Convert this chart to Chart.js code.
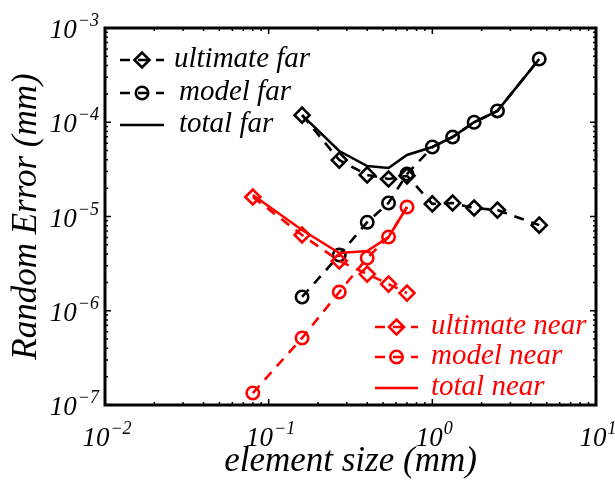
<!DOCTYPE html>
<html><head><meta charset="utf-8">
<script src="https://cdn.jsdelivr.net/npm/chart.js@4/dist/chart.umd.min.js"></script>
<style>html,body{margin:0;padding:0;background:#fff;} #wrap{width:615px;height:481px;}</style>
</head><body><div id="wrap"><canvas id="c" width="615" height="481"></canvas></div>
<script>
// ---- data ----
const sizeFar = [0.16, 0.27, 0.4, 0.54, 0.7, 1.0, 1.33, 1.8, 2.5, 4.5];
const sizeNear = [0.08, 0.16, 0.27, 0.4, 0.54, 0.7];
const ultimateFar = [1.19e-4, 3.97e-5, 2.76e-5, 2.5e-5, 2.7e-5, 1.36e-5, 1.39e-5, 1.23e-5, 1.17e-5, 8.1e-6];
const modelFar = [1.4e-6, 3.9e-6, 8.7e-6, 1.39e-5, 2.82e-5, 5.46e-5, 6.97e-5, 1.0e-4, 1.32e-4, 4.69e-4];
const totalFar = [1.19e-4, 4.95e-5, 3.43e-5, 3.27e-5, 4.49e-5, 5.46e-5, 6.97e-5, 1.0e-4, 1.32e-4, 4.69e-4];
const ultimateNear = [1.61e-5, 6.36e-6, 3.37e-6, 2.45e-6, 1.92e-6, 1.54e-6];
const modelNear = [1.34e-7, 5.14e-7, 1.58e-6, 3.63e-6, 6.05e-6, 1.26e-5];
const totalNear = [1.69e-5, 7.19e-6, 4.1e-6, 4.3e-6, 6.05e-6, 1.26e-5];
const xTickValues = [0.01, 0.1, 1, 10];
const xTickExponents = ['\u22122', '\u22121', '0', '1'];
const yTickValues = [1e-7, 1e-6, 1e-5, 1e-4, 1e-3];
const yTickExponents = ['\u22127', '\u22126', '\u22125', '\u22124', '\u22123'];
const xTitle = 'element size (mm)';
const yTitle = 'Random Error (mm)';
const seriesLabels = ['ultimate far', 'model far', 'total far', 'ultimate near', 'model near', 'total near'];

const FONT = '"Liberation Serif", "Times New Roman", serif';
const BLACK = '#000000', RED = '#ff0000';
const LW = 2.6, DASH = [10, 8];

function pts(xs, ys) { return xs.map((x, i) => ({ x: x, y: ys[i] })); }
function style(color, kind) {
  const s = { borderColor: color, borderWidth: LW, tension: 0, fill: false,
    pointBorderColor: color, pointBackgroundColor: 'rgba(0,0,0,0)', pointBorderWidth: LW,
    pointHoverRadius: 0 };
  if (kind === 'ult') { s.borderDash = DASH; s.pointStyle = 'rectRot'; s.pointRadius = 7.5; }
  else if (kind === 'model') { s.borderDash = DASH; s.pointStyle = 'circle'; s.pointRadius = 6.2; }
  else { s.borderDash = []; s.pointRadius = 0; }
  s.order = color === RED ? 0 : 1;
  return s;
}

const datasets = [
  Object.assign({ label: seriesLabels[0], data: pts(sizeFar, ultimateFar) }, style(BLACK, 'ult')),
  Object.assign({ label: seriesLabels[1], data: pts(sizeFar, modelFar) }, style(BLACK, 'model')),
  Object.assign({ label: seriesLabels[2], data: pts(sizeFar, totalFar) }, style(BLACK, 'total')),
  Object.assign({ label: seriesLabels[3], data: pts(sizeNear, ultimateNear) }, style(RED, 'ult')),
  Object.assign({ label: seriesLabels[4], data: pts(sizeNear, modelNear) }, style(RED, 'model')),
  Object.assign({ label: seriesLabels[5], data: pts(sizeNear, totalNear) }, style(RED, 'total'))
];

function drawMarker(ctx, ds, x, y) {
  if (!ds.pointRadius) return;
  ctx.save();
  ctx.setLineDash([]);
  ctx.strokeStyle = ds.pointBorderColor;
  ctx.lineWidth = ds.pointBorderWidth;
  const r = ds.pointRadius;
  ctx.beginPath();
  if (ds.pointStyle === 'rectRot') {
    ctx.moveTo(x - r, y); ctx.lineTo(x, y - r); ctx.lineTo(x + r, y); ctx.lineTo(x, y + r); ctx.closePath();
  } else {
    ctx.arc(x, y, r, 0, Math.PI * 2);
  }
  ctx.stroke();
  ctx.restore();
}

function drawSup(ctx, base, exp, x, y, align) {
  ctx.font = 'italic 27px ' + FONT;
  const wb = ctx.measureText(base).width;
  ctx.font = 'italic 18px ' + FONT;
  const we = ctx.measureText(exp).width;
  const w = wb + 1 + we;
  let x0 = align === 'right' ? x - w : x - w / 2;
  ctx.textAlign = 'left';
  ctx.textBaseline = 'alphabetic';
  ctx.font = 'italic 27px ' + FONT;
  ctx.fillText(base, x0, y);
  ctx.font = 'italic 18px ' + FONT;
  ctx.fillText(exp, x0 + wb + 1, y - 12);
}

const framePlugin = {
  id: 'frame',
  afterDatasetsDraw(chart) {
    const ctx = chart.ctx, a = chart.chartArea;
    const xs = chart.scales.x, ys = chart.scales.y;
    ctx.save();
    ctx.fillStyle = BLACK; ctx.strokeStyle = BLACK;
    ctx.lineWidth = 1.5;
    ctx.beginPath();
    for (let k = -2; k <= 0; k++) {
      for (let m = 1; m <= 9; m++) {
        const v = m * Math.pow(10, k);
        const px = xs.getPixelForValue(v);
        const L = m === 1 ? 6 : 3;
        ctx.moveTo(px, a.bottom); ctx.lineTo(px, a.bottom - L);
        ctx.moveTo(px, a.top); ctx.lineTo(px, a.top + L);
      }
    }
    for (let k = -7; k <= -4; k++) {
      for (let m = 1; m <= 9; m++) {
        const v = m * Math.pow(10, k);
        const py = ys.getPixelForValue(v);
        const L = m === 1 ? 6 : 3;
        ctx.moveTo(a.left, py); ctx.lineTo(a.left + L, py);
        ctx.moveTo(a.right, py); ctx.lineTo(a.right - L, py);
      }
    }
    ctx.stroke();
    ctx.lineWidth = 3;
    ctx.strokeRect(a.left, a.top, a.right - a.left, a.bottom - a.top);
    xTickValues.forEach((v, i) => drawSup(ctx, '10', xTickExponents[i], xs.getPixelForValue(v) + 2, a.bottom + 41, 'center'));
    yTickValues.forEach((v, i) => drawSup(ctx, '10', yTickExponents[i], a.left - 6, ys.getPixelForValue(v) + 10, 'right'));
    ctx.font = 'italic 35px ' + FONT;
    ctx.textAlign = 'center'; ctx.textBaseline = 'alphabetic';
    ctx.fillText(xTitle, (a.left + a.right) / 2, 471);
    ctx.save();
    ctx.translate(36, (a.top + a.bottom) / 2);
    ctx.rotate(-Math.PI / 2);
    ctx.fillText(yTitle, 0, 0);
    ctx.restore();
    const groups = [
      { idx: [0, 1, 2], x1: 120, x2: 164, tx: [174, 179, 179], ys: [60, 93, 125] },
      { idx: [3, 4, 5], x1: 375, x2: 418, tx: [431, 431, 431], ys: [327, 357, 388] }
    ];
    groups.forEach(g => {
      g.idx.forEach((di, j) => {
        const ds = chart.data.datasets[di];
        const y = g.ys[j];
        ctx.save();
        ctx.strokeStyle = ds.borderColor; ctx.lineWidth = ds.borderWidth;
        ctx.setLineDash(ds.borderDash || []);
        ctx.beginPath(); ctx.moveTo(g.x1, y); ctx.lineTo(g.x2, y); ctx.stroke();
        ctx.restore();
        drawMarker(ctx, ds, (g.x1 + g.x2) / 2, y);
        ctx.fillStyle = ds.borderColor;
        ctx.font = 'italic 29px ' + FONT;
        ctx.textAlign = 'left'; ctx.textBaseline = 'alphabetic';
        ctx.fillText(ds.label, g.tx[j], y + 7);
      });
    });
    ctx.restore();
  }
};

new Chart(document.getElementById('c'), {
  type: 'line',
  data: { datasets: datasets },
  options: {
    responsive: false,
    animation: false,
    devicePixelRatio: 1,
    layout: { padding: { left: 105, right: 19, top: 28, bottom: 76 } },
    scales: {
      x: { type: 'logarithmic', min: 0.01, max: 10, display: false },
      y: { type: 'logarithmic', min: 1e-7, max: 1e-3, display: false }
    },
    plugins: { legend: { display: false }, tooltip: { enabled: false } }
  },
  plugins: [framePlugin]
});
</script>
</body></html>
